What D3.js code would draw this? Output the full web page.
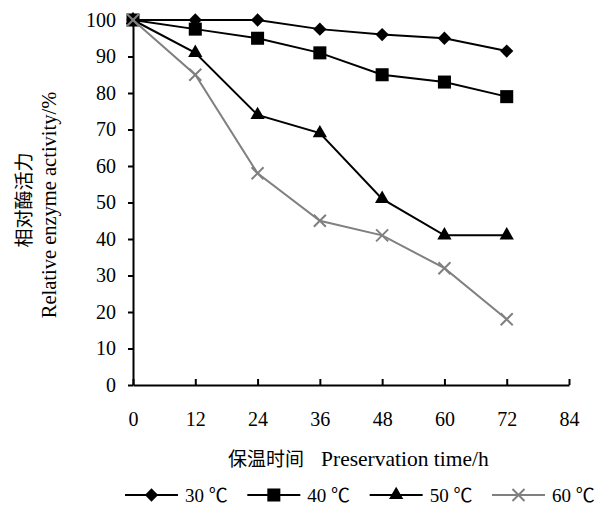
<!DOCTYPE html>
<html>
<head>
<meta charset="utf-8">
<script src="https://cdn.jsdelivr.net/npm/d3@7"></script>
<style>
  body { margin: 0; background: #fff; }
  svg text { font-family: "Liberation Serif", "Noto Sans CJK SC", serif; }
</style>
</head>
<body>
<div id="chart"></div>
<script>
const hours = [0, 12, 24, 36, 48, 60, 72];
const xTicks = [0, 12, 24, 36, 48, 60, 72, 84];
const yTicks = [0, 10, 20, 30, 40, 50, 60, 70, 80, 90, 100];

const series30 = [100, 100, 100, 97.5, 96, 95, 91.5];
const series40 = [100, 97.5, 95, 91, 85, 83, 79];
const series50 = [100, 91, 74, 69, 51, 41, 41];
const series60 = [100, 85, 58, 45, 41, 32, 18];

const seriesNames = ['30 \u2103', '40 \u2103', '50 \u2103', '60 \u2103'];

const width = 596;
const height = 506;

const svg = d3.select('#chart')
    .append('svg')
    .attr('width', width)
    .attr('height', height);

const x = d3.scaleLinear().domain([0, 84]).range([133, 569]);
const y = d3.scaleLinear().domain([0, 100]).range([385, 20]);

// marker look per series
const styles = [
    { color: '#000', symbol: d3.symbolSquare, size: 88, rotate: 45, fill: true },
    { color: '#000', symbol: d3.symbolSquare, size: 170, rotate: 0, fill: true },
    { color: '#000', symbol: d3.symbolTriangle, size: 88, rotate: 0, fill: true },
    { color: '#808080', symbol: d3.symbolTimes, size: 96, rotate: 0, fill: false }
];

const allSeries = [series30, series40, series50, series60];

// axes
const yAxis = svg.append('g')
    .attr('transform', `translate(${x(0)},0)`)
    .call(d3.axisLeft(y).tickValues(yTicks).tickSizeInner(5).tickSizeOuter(0).tickPadding(12));

const xAxis = svg.append('g')
    .attr('transform', `translate(0,${y(0)})`)
    .call(d3.axisBottom(x).tickValues(xTicks).tickSizeInner(-6).tickSizeOuter(0).tickPadding(27));

[xAxis, yAxis].forEach(a => {
    a.attr('font-family', null).attr('font-size', null);
    a.select('.domain').attr('stroke', '#000').attr('stroke-width', 2);
    a.selectAll('.tick line').attr('stroke', '#000').attr('stroke-width', 2);
    a.selectAll('.tick text')
        .attr('font-size', 20)
        .attr('fill', '#000');
});

// lines and markers
const line = d3.line()
    .x((d, i) => x(hours[i]))
    .y(d => y(d));

allSeries.forEach((vals, k) => {
    const st = styles[k];
    const g = svg.append('g');
    g.append('path')
        .datum(vals)
        .attr('d', line)
        .attr('fill', 'none')
        .attr('stroke', st.color)
        .attr('stroke-width', 2);

    g.selectAll('path.mark')
        .data(vals)
        .enter()
        .append('path')
        .attr('class', 'mark')
        .attr('d', d3.symbol(st.symbol, st.size))
        .attr('transform', (d, i) => `translate(${x(hours[i])},${y(d)}) rotate(${st.rotate})`)
        .attr('fill', st.fill ? st.color : 'none')
        .attr('stroke', st.color)
        .attr('stroke-width', st.fill ? 0 : 2);
});

// axis titles
const xTitle = svg.append('text')
    .attr('x', 228)
    .attr('y', 466);
xTitle.append('tspan').attr('font-size', 19).text('保温时间');
xTitle.append('tspan').attr('dx', 17).attr('font-size', 21.5).text('Preservation time/h');

svg.append('text')
    .attr('transform', 'translate(31,200) rotate(-90)')
    .attr('text-anchor', 'middle')
    .attr('font-size', 19)
    .text('相对酶活力');

svg.append('text')
    .attr('transform', 'translate(56,205) rotate(-90)')
    .attr('text-anchor', 'middle')
    .attr('font-size', 20.5)
    .text('Relative enzyme activity/%');

// legend
const legendX = d3.scaleLinear().domain([0, 3]).range([125, 492]);
const legend = svg.append('g').attr('transform', 'translate(0,495)');

seriesNames.forEach((name, k) => {
    const st = styles[k];
    const item = legend.append('g').attr('transform', `translate(${legendX(k)},0)`);
    item.append('line')
        .attr('x1', 0).attr('x2', 53)
        .attr('stroke', st.color)
        .attr('stroke-width', 2);
    item.append('path')
        .attr('d', d3.symbol(st.symbol, st.size))
        .attr('transform', `translate(26.5,0) rotate(${st.rotate})`)
        .attr('fill', st.fill ? st.color : 'none')
        .attr('stroke', st.color)
        .attr('stroke-width', st.fill ? 0 : 2);
    item.append('text')
        .attr('x', 60)
        .attr('y', 7)
        .attr('font-size', 19)
        .text(name);
});
</script>
</body>
</html>
